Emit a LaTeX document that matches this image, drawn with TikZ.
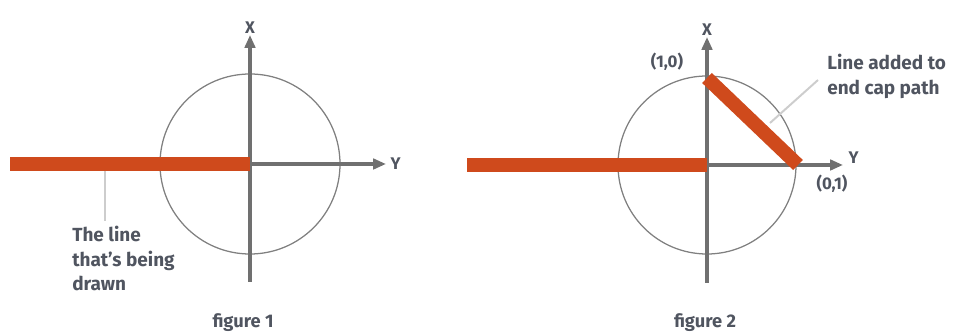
\documentclass[tikz,border=0pt]{standalone}
\usepackage{fontspec}
\setmainfont{Fira Sans}
\usepackage{tikz}
\usetikzlibrary{arrows.meta,positioning}
\usepackage{xcolor}
\definecolor{capred}{RGB}{207,74,28}
\definecolor{axisgray}{RGB}{112,112,112}
\definecolor{ringgray}{RGB}{128,128,128}
\definecolor{callgray}{RGB}{205,205,205}
\definecolor{inkgray}{RGB}{80,85,96}

\begin{document}
\begin{tikzpicture}[x=0.025cm, y=-0.025cm,
    axis/.style={-{Triangle[length=3.2mm, width=2.6mm]}, line width=2.2pt, axisgray},
    ring/.style={draw=ringgray, line width=0.9pt},
    stroke/.style={capred, line width=9.9pt},
    callout/.style={callgray, line width=1.4pt},
    axlbl/.style={font=\fontsize{12}{14}\selectfont\bfseries, text=inkgray, inner sep=1pt},
    ptlbl/.style={font=\fontsize{12}{14}\selectfont\bfseries, text=inkgray, inner sep=0pt},
    note/.style={font=\fontsize{13.5}{17.5}\selectfont\bfseries, text=inkgray, align=left, inner sep=0pt},
    caption/.style={font=\fontsize{13}{14}\selectfont\bfseries, text=inkgray, inner sep=0pt}
]
    \useasboundingbox (0,0) rectangle (955,333);

    % figure 1
    \coordinate (o1) at (250,164);
    \coordinate (xb1) at (250,282);
    \coordinate (xt1) at (250,35);
    \coordinate (yt1) at (386,164);
    \draw[ring] (o1) circle (90);
    \draw[axis] (xb1) -- (xt1);
    \draw[axis] (o1) -- (yt1);
    \node[axlbl, above=0pt of xt1] (xl1) {X};
    \node[axlbl, right=2pt of yt1] (yl1) {Y};
    \coordinate (s1) at (10,164);
    \draw[stroke] (s1) -- (o1);
    \node[note, anchor=north west] (n1) at (72,226) {The line\\that's being\\drawn};
    \coordinate (c1) at (105,171);
    \coordinate (c1e) at (105,221);
    \draw[callout] (c1) -- (c1e);
    \node[caption] (f1) at (243,323) {figure 1};

    % figure 2
    \coordinate (o2) at (707,165);
    \coordinate (xb2) at (707,283);
    \coordinate (xt2) at (707,37);
    \coordinate (yt2) at (843,165);
    \draw[ring] (o2) circle (89);
    \draw[axis] (xb2) -- (xt2);
    \draw[axis] (o2) -- (yt2);
    \node[axlbl, above=0pt of xt2] (xl2) {X};
    \node[axlbl, anchor=west] (yl2) at (847,158) {Y};
    \coordinate (s2) at (467,165);
    \draw[stroke] (s2) -- (o2);
    \coordinate (p10) at (707,78);
    \coordinate (p01) at (798,165);
    \draw[stroke] (p10) -- (p01);
    \node[ptlbl] (l10) at (667,62) {(1,0)};
    \node[ptlbl] (l01) at (832,184) {(0,1)};
    \node[note, anchor=north west] (n2) at (827,54) {Line added to\\end cap path};
    \coordinate (c2) at (818,80);
    \coordinate (c2e) at (770,123);
    \draw[callout] (c2) -- (c2e);
    \node[caption] (f2) at (705,323) {figure 2};
\end{tikzpicture}
\end{document}
